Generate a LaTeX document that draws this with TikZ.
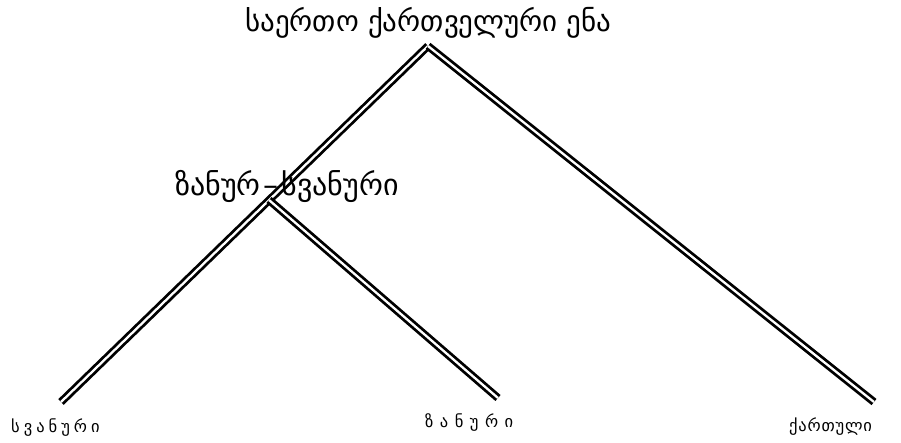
\documentclass[tikz,border=0pt]{standalone}
\usepackage{fontspec}
\newfontfamily\geo{DejaVu Sans}
\newcommand{\lsp}[1]{\hspace{#1}}
\begin{document}
\begin{tikzpicture}[x=1pt,y=-1pt,
  branch/.style={double=white, draw=black, line width=2.8pt, double distance=2.3pt},
  big/.style={font=\geo\fontsize{29}{32}\selectfont, inner sep=0pt, anchor=base west},
  leaf/.style={font=\geo\fontsize{16.5}{19}\selectfont, inner sep=0pt, anchor=base west}]
\useasboundingbox (0,0) rectangle (901,443);
\coordinate (top) at (428,46);
\coordinate (mid) at (269,200);
\coordinate (sv) at (61,402);
\coordinate (zn) at (498,398);
\coordinate (kt) at (874,402);
\draw[branch] (top) -- (sv);
\draw[branch] (mid) -- (zn);
\draw[branch] (top) -- (kt);
\node[big] (ltop) at (245,32) {საერთო ქართველური ენა};
\node[big, font=\geo\fontsize{30}{33}\selectfont] (lmid) at (175,196) {ზანურ\hspace{3pt}–\hspace{3pt}სვანური};
\node[leaf] (lsv) at (11,432) {ს\lsp{4pt}ვ\lsp{4pt}ა\lsp{4pt}ნ\lsp{4pt}უ\lsp{4pt}რ\lsp{4pt}ი};
\node[leaf] (lzn) at (425,427) {ზ\lsp{6.5pt}ა\lsp{6.5pt}ნ\lsp{6.5pt}უ\lsp{6.5pt}რ\lsp{6.5pt}ი};
\node[leaf] (lkt) at (789,431) {ქ\lsp{0.8pt}ა\lsp{0.8pt}რ\lsp{0.8pt}თ\lsp{0.8pt}უ\lsp{0.8pt}ლ\lsp{0.8pt}ი};
\end{tikzpicture}
\end{document}
